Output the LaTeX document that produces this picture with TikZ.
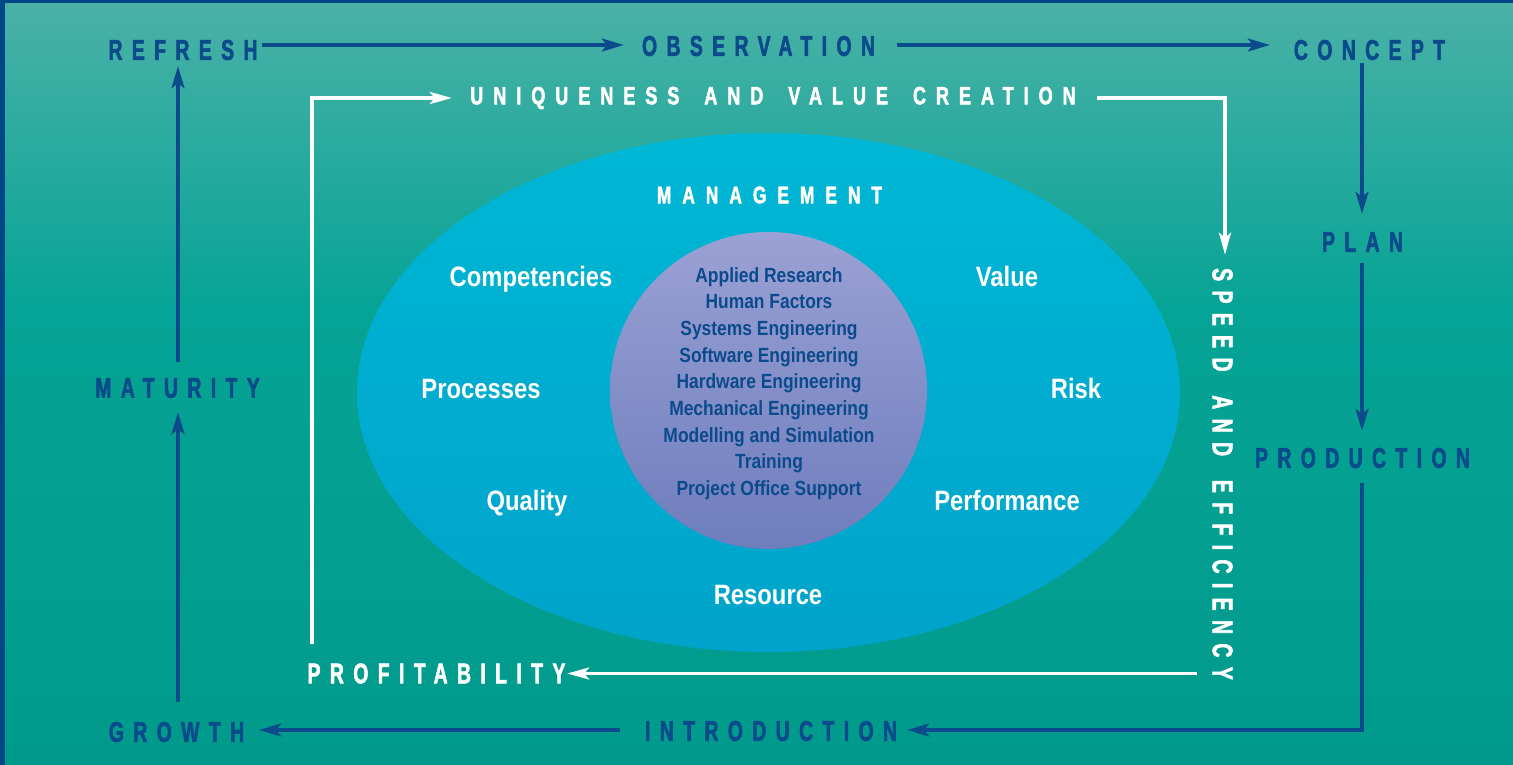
\documentclass[tikz,border=0pt]{standalone}
\usepackage{fontspec}
\setmainfont{Liberation Sans}
\newfontfamily\blufont[FakeStretch=0.68,LetterSpace=33,FakeBold=2]{Liberation Sans Bold}
\newfontfamily\whtfont[FakeStretch=0.72,LetterSpace=40,FakeBold=2]{Liberation Sans Bold}
\newfontfamily\mgtfont[FakeStretch=0.72,LetterSpace=46,FakeBold=2]{Liberation Sans Bold}
\newfontfamily\cndfont[FakeStretch=0.85]{Liberation Sans}
\usetikzlibrary{arrows.meta}
\definecolor{bgtop}{HTML}{4BB1A7}
\definecolor{bgmid}{HTML}{06A496}
\definecolor{bgbot}{HTML}{009A8B}
\definecolor{frame}{HTML}{00478A}
\definecolor{dblue}{HTML}{0B4A8B}
\definecolor{elltop}{HTML}{00B7D5}
\definecolor{ellbot}{HTML}{00A3CA}
\definecolor{cirtop}{HTML}{9AA1D4}
\definecolor{cirbot}{HTML}{6E7DBD}
\pgfdeclareverticalshading{bgshade}{100bp}{color(0bp)=(bgbot); color(25bp)=(bgbot); color(55bp)=(bgmid); color(75bp)=(bgtop); color(100bp)=(bgtop)}
\newcommand\trk[1]{\makebox[0pt]{#1}}
\newcommand\wg{ \hspace{10pt}}
\newcommand\sg{ \hspace{9pt}}
\begin{document}
\begin{tikzpicture}[x=1pt,y=-1pt,
  bluelbl/.style={inner sep=0pt, minimum height=21pt, text=dblue, font=\blufont\fontsize{28.5}{30}\selectfont},
  whitelbl/.style={inner sep=0pt, minimum height=21pt, text=white, font=\blufont\fontsize{28.5}{30}\selectfont},
  uniqlbl/.style={inner sep=0pt, minimum height=18pt, text=white, font=\whtfont\fontsize{25}{28}\selectfont},
  mgtlbl/.style={inner sep=0pt, minimum height=18pt, text=white, font=\mgtfont\fontsize{24}{28}\selectfont},
  innerlbl/.style={inner sep=0pt, anchor=base, text=white, font=\cndfont\bfseries\fontsize{28}{30}\selectfont},
  corelbl/.style={inner sep=0pt, align=center, text=dblue, font=\cndfont\bfseries\fontsize{20.5}{26.67}\selectfont},
  bluearrow/.style={draw=dblue, line width=3.5pt, -{Stealth[length=22pt,width=13pt,inset=5pt]}},
  whitearrow/.style={draw=white, line width=3.5pt, -{Stealth[length=22pt,width=12pt,inset=5pt]}},
]
\useasboundingbox (0,0) rectangle (1513,765);
% background and frame
\shade[shading=bgshade] (0,0) rectangle (1513,765);
\fill[frame] (0,0) rectangle (5,765);
\fill[frame] (0,0) rectangle (1513,3.5);
% ellipse and core circle
\shade[top color=elltop, bottom color=ellbot] (768.5,392.5) ellipse [x radius=411.5, y radius=259.5];
\shade[top color=cirtop, bottom color=cirbot] (768.5,390.5) circle [radius=158.5];

% outer cycle labels
\node[bluelbl, minimum width=150pt] (refresh) at (183,50) {\trk{REFRESH}};
\node[bluelbl, minimum width=235pt] (observation) at (758.5,46) {\trk{OBSERVATION}};
\node[bluelbl, minimum width=153pt] (concept) at (1369.5,50) {\trk{CONCEPT}};
\node[bluelbl, minimum width=85pt] (plan) at (1362.5,242) {\trk{PLAN}};
\node[bluelbl, minimum width=213pt] (production) at (1362.5,458) {\trk{PRODUCTION}};
\node[bluelbl, minimum width=252pt] (introduction) at (771,731) {\trk{INTRODUCTION}};
\node[bluelbl, minimum width=137pt] (growth) at (176.5,732) {\trk{GROWTH}};
\node[bluelbl, minimum width=169pt] (maturity) at (177.5,388) {\trk{MATURITY}};

% inner cycle labels
\node[uniqlbl, minimum width=610pt] (uniqueness) at (773,98) {\trk{UNIQUENESS\wg AND\wg VALUE\wg CREATION}};
\node[whitelbl, minimum width=412pt, rotate=-90] (speed) at (1222.5,474) {\trk{SPEED\sg AND\sg EFFICIENCY}};
\node[whitelbl, minimum width=257pt] (profitability) at (436.5,673.5) {\trk{PROFITABILITY}};
\coordinate (effstart) at (1197,673.5);

% management ellipse labels
\node[mgtlbl, minimum width=233pt] (management) at (769.5,195) {\trk{MANAGEMENT}};
\node[innerlbl] (competencies) at (531,286) {Competencies};
\node[innerlbl] (value) at (1007,286) {Value};
\node[innerlbl] (processes) at (481,398) {Processes};
\node[innerlbl] (risk) at (1076,398) {Risk};
\node[innerlbl] (quality) at (527,510) {Quality};
\node[innerlbl] (performance) at (1007,510) {Performance};
\node[innerlbl] (resource) at (768,604) {Resource};

% core disciplines
\node[corelbl] (disciplines) at (769,383.5) {Applied Research\\Human Factors\\Systems Engineering\\Software Engineering\\Hardware Engineering\\Mechanical Engineering\\Modelling and Simulation\\Training\\Project Office Support};

% outer blue cycle
\draw[bluearrow, shorten <=4pt, shorten >=17pt] ([yshift=5pt]refresh.east) -- ([yshift=1pt]observation.west);
\draw[bluearrow, shorten <=21pt, shorten >=23pt] ([yshift=1pt]observation.east) -- ([yshift=5pt]concept.west);
\draw[bluearrow, shorten <=2.5pt, shorten >=17.5pt] ([xshift=-7.5pt]concept.south) -- ([xshift=-0.5pt]plan.north);
\draw[bluearrow, shorten <=10.5pt, shorten >=16.5pt] ([xshift=-0.5pt]plan.south) -- ([xshift=-0.5pt]production.north);
\draw[bluearrow, shorten <=14.5pt, shorten >=10pt] ([xshift=-0.5pt]production.south) |- ([yshift=1pt]introduction.east);
\draw[bluearrow, shorten <=25pt, shorten >=14pt] ([yshift=1pt]introduction.west) -- ([yshift=2pt]growth.east);
\draw[bluearrow, shorten <=19.5pt, shorten >=13.5pt] ([xshift=1.5pt]growth.north) -- ([xshift=0.5pt]maturity.south);
\draw[bluearrow, shorten <=15.5pt, shorten >=5.5pt] ([xshift=0.5pt]maturity.north) -- ([xshift=-5pt]refresh.south);

% inner white cycle
\draw[whitearrow, shorten <=18.5pt, shorten >=16pt] ([xshift=4pt]profitability.north west) |- (uniqueness.west);
\draw[whitearrow, shorten <=19pt, shorten >=13pt] (uniqueness.east) -| ([xshift=2.5pt]speed.west);
\draw[whitearrow, shorten >=2pt] (effstart) -- (profitability.east);
\end{tikzpicture}
\end{document}
